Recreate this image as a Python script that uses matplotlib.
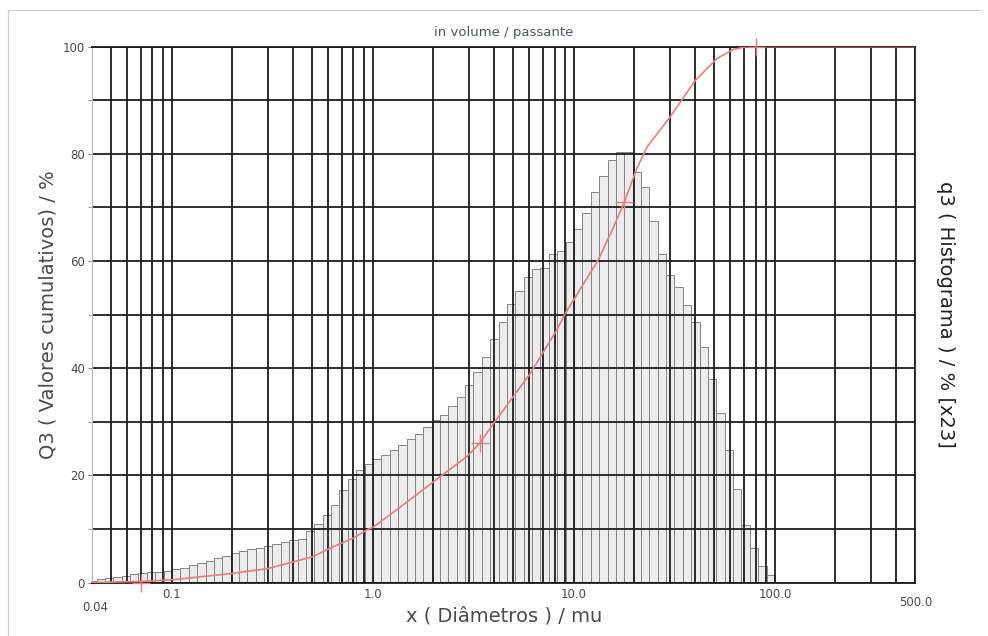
import matplotlib
matplotlib.use('Agg')
import matplotlib.pyplot as plt
from matplotlib.ticker import LogLocator, NullFormatter, FixedLocator
from matplotlib.transforms import blended_transform_factory
from matplotlib.lines import Line2D

# size classes (mu), 24 per decade
class_edges = [0.0383, 0.0422, 0.0464, 0.0511, 0.0562, 0.0619, 0.0681, 0.0750, 0.0825, 0.0909,
               0.100, 0.110, 0.121, 0.133, 0.147, 0.162, 0.178, 0.196, 0.215, 0.237, 0.261, 0.287,
               0.316, 0.348, 0.383, 0.422, 0.464, 0.511, 0.562, 0.619, 0.681, 0.750, 0.825, 0.909,
               1.00, 1.10, 1.21, 1.33, 1.47, 1.62, 1.78, 1.96, 2.15, 2.37, 2.61, 2.87,
               3.16, 3.48, 3.83, 4.22, 4.64, 5.11, 5.62, 6.19, 6.81, 7.50, 8.25, 9.09,
               10.0, 11.0, 12.1, 13.3, 14.7, 16.2, 17.8, 19.6, 21.5, 23.7, 26.1, 28.7,
               31.6, 34.8, 38.3, 42.2, 46.4, 51.1, 56.2, 61.9, 68.1, 75.0, 82.5, 90.9, 100.0]

# q3 histogram (x23)
q3_hist = [0.3, 0.6, 0.8, 1.0, 1.2, 1.5, 1.7, 1.9, 2.0, 2.2, 2.5, 2.8, 3.2, 3.6, 4.1, 4.5,
           4.9, 5.6, 5.9, 6.2, 6.5, 6.8, 7.2, 7.6, 7.9,
           8.2, 9.7, 11.0, 12.6, 14.5, 17.3, 19.3, 21.0, 22.2, 23.0, 23.8, 24.7, 25.7, 26.7,
           27.8, 29.1, 30.3,
           31.3, 32.9, 34.7, 36.8, 39.3, 42.1, 45.4, 48.7, 51.9, 54.4, 57.1, 58.6, 58.7, 61.4,
           61.8, 63.6, 65.9, 69.0, 72.9,
           75.8, 78.8, 80.4, 80.4, 76.6, 73.8, 67.4, 61.4, 57.4, 55.2, 51.8, 48.7, 44.0, 37.9,
           31.6, 24.7, 17.4, 10.7, 6.4, 3.1, 1.4]

# Q3 cumulative curve
cum_x = [0.04, 0.07, 0.1, 0.2, 0.3, 0.435, 0.5, 0.636, 0.8, 0.93, 1.0, 1.37, 2.0, 2.93, 3.4,
         3.98, 6.06, 8.2, 9.05, 13.2, 15.5, 17.8, 20.4, 23.1, 30.1, 40.1, 51.5, 62.1, 72.7, 500.0]
cum_y = [0.0, 0.2, 0.5, 1.7, 2.6, 4.2, 4.8, 6.7, 8.3, 9.8, 10.3, 14.1, 18.8, 23.5, 26.0,
         29.7, 39.0, 47.1, 50.2, 60.2, 65.8, 71.0, 77.0, 81.3, 86.9, 93.7, 97.8, 99.5, 100.0, 100.0]

# characteristic points marked on the curve
mark_x = [0.07, 3.4, 17.8, 80.0]
mark_y = [0.0, 26.0, 71.0, 100.0]

xlabels = ['0.1', '1.0', '10.0', '100.0']
xticks = [0.1, 1.0, 10.0, 100.0]

red = '#ea7d7f'
txt = '#4a4a4a'

fig = plt.figure(figsize=(9.88, 6.36), dpi=100)
ax = fig.add_axes([0.0931, 0.0841, 0.8335, 0.8425])
ax.set_xscale('log')
ax.set_xlim(0.04, 500)
ax.set_ylim(0, 100)

lefts = class_edges[:-1]
widths = [b - a for a, b in zip(class_edges[:-1], class_edges[1:])]
ax.bar(lefts, q3_hist, width=widths, align='edge', facecolor='#ececec',
       edgecolor='#858585', linewidth=0.7, zorder=1)

ax.plot(cum_x, cum_y, color=red, lw=1.2, zorder=3)
ax.plot(mark_x, mark_y, ls='none', marker='+', ms=13, mew=1.0, color=red,
        zorder=3, clip_on=False)

# grid
ax.xaxis.set_major_locator(FixedLocator(xticks))
ax.set_xticklabels(xlabels)
ax.xaxis.set_minor_locator(LogLocator(base=10, subs=range(2, 10)))
ax.xaxis.set_minor_formatter(NullFormatter())
ax.set_yticks([0, 20, 40, 60, 80, 100])
ax.set_yticks([10, 30, 50, 70, 90], minor=True)
ax.grid(True, which='both', color='#1c1c1c', lw=1.3)
ax.tick_params(axis='x', which='both', length=0, labelsize=8.5, labelcolor=txt, pad=4)
ax.tick_params(axis='y', which='both', length=3, labelsize=8.5, labelcolor=txt,
               color='#888888', pad=2)

for s in ['top', 'right', 'bottom']:
    ax.spines[s].set_color('#1c1c1c')
    ax.spines[s].set_linewidth(1.3)
ax.spines['left'].set_color('#bbbbbb')
ax.spines['left'].set_linewidth(0.8)

tr = blended_transform_factory(ax.transData, ax.transAxes)
ax.text(0.0415, -0.046, '0.04', transform=tr, ha='center', va='center',
        fontsize=8.5, color=txt)
ax.text(500, -0.037, '500.0', transform=tr, ha='center', va='center',
        fontsize=8.5, color=txt)

ax.set_title('in volume / passante', fontsize=9.5, color='#4d5566', pad=8)
ax.set_xlabel('x ( Diâmetros ) / mu', fontsize=14, color=txt, labelpad=4)
ax.set_ylabel('Q3 ( Valores cumulativos) / %', fontsize=14, color=txt, labelpad=4)
ax.text(1.036, 0.5, 'q3 ( Histograma ) / % [x23]', transform=ax.transAxes,
        rotation=270, ha='center', va='center', fontsize=14, color='#222222')

# faint scan border
fig.add_artist(Line2D([0.008, 0.992], [0.984, 0.984], transform=fig.transFigure,
                      color='#cccccc', lw=0.8))
fig.add_artist(Line2D([0.008, 0.008], [0.0, 0.984], transform=fig.transFigure,
                      color='#cccccc', lw=0.8))

fig.savefig('out.png', dpi=100)
